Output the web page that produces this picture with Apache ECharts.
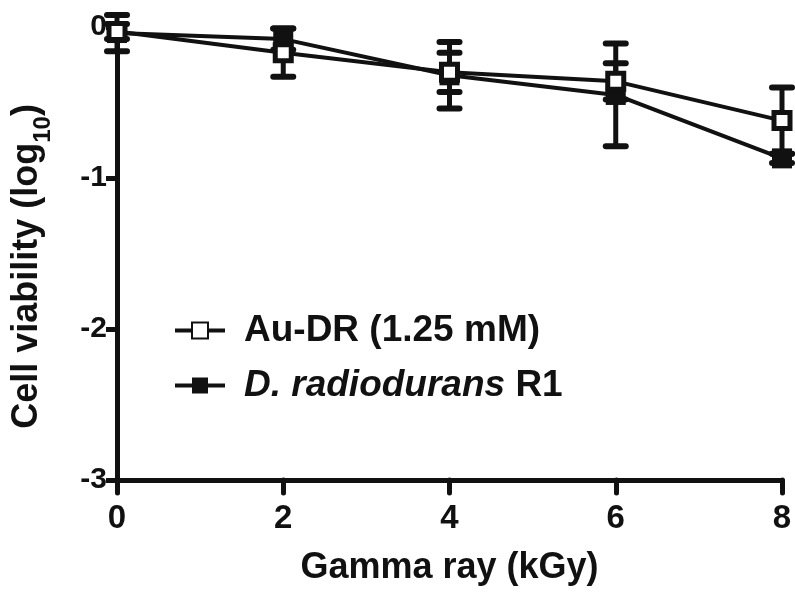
<!DOCTYPE html>
<html><head><meta charset="utf-8">
<script src="https://cdn.jsdelivr.net/npm/echarts@6/dist/echarts.min.js"></script>
<style>html,body{margin:0;padding:0;background:#fff}#c{width:795px;height:594px}</style>
</head><body><div id="c"></div>
<script>
const doses = [0, 2, 4, 6, 8];
const xTicks = [0, 2, 4, 6, 8];
const yTicks = [-3, -2, -1, 0];
const auDR = [-0.03, -0.17, -0.30, -0.36, -0.62];
const auDRErr = [0.05, 0.16, 0.13, 0.12, 0.22];
const dRad = [-0.04, -0.08, -0.32, -0.45, -0.87];
const dRadErr = [0.12, 0.07, 0.22, 0.34, 0.03];

const FONT = '"Liberation Sans", Arial, sans-serif';
const chart = echarts.init(document.getElementById('c'));

function errSeries(name, vals, errs, z) {
  return {
    type: 'custom', name: name + ' err', z: z, silent: true,
    data: doses.map((d, i) => [d, vals[i] - errs[i], vals[i] + errs[i]]),
    renderItem: function (params, api) {
      const x = api.value(0);
      const lo = api.coord([x, api.value(1)]);
      const hi = api.coord([x, api.value(2)]);
      const hw = 10;
      const st = { stroke: '#111', lineWidth: 6, lineCap: 'round' };
      return { type: 'group', children: [
        { type: 'line', shape: { x1: lo[0], y1: lo[1], x2: hi[0], y2: hi[1] }, style: { stroke: '#111', lineWidth: 5 } },
        { type: 'line', shape: { x1: lo[0] - hw, y1: lo[1], x2: lo[0] + hw, y2: lo[1] }, style: st },
        { type: 'line', shape: { x1: hi[0] - hw, y1: hi[1], x2: hi[0] + hw, y2: hi[1] }, style: st }
      ]};
    }
  };
}

chart.setOption({
  animation: false,
  grid: { left: 117, right: 13, top: 27, bottom: 114, containLabel: false },
  xAxis: {
    type: 'value', min: 0, max: 8, interval: 2,
    name: 'Gamma ray (kGy)', nameLocation: 'middle', nameGap: 70,
    nameTextStyle: { fontFamily: FONT, fontWeight: 'bold', fontSize: 36, color: '#111' },
    axisLine: { onZero: false, lineStyle: { color: '#111', width: 5 } },
    axisTick: { show: true, length: 13, lineStyle: { color: '#111', width: 5, cap: 'round' } },
    axisLabel: { fontFamily: FONT, fontWeight: 'bold', fontSize: 33, color: '#111', margin: 22,
      formatter: v => xTicks.includes(v) ? String(v) : '' },
    splitLine: { show: false }
  },
  yAxis: {
    type: 'value', min: -3, max: 0, interval: 1,
    name: '{a|Cell viability (log}{s|10}{a|)}', nameLocation: 'middle', nameGap: 70,
    nameTextStyle: { fontFamily: FONT, fontWeight: 'bold', fontSize: 36, color: '#111', padding: [0, 26, 0, 0],
      rich: {
        a: { fontFamily: FONT, fontWeight: 'bold', fontSize: 36, color: '#111', lineHeight: 40 },
        s: { fontFamily: FONT, fontWeight: 'bold', fontSize: 24, color: '#111', lineHeight: 40, verticalAlign: 'bottom', padding: [0, 0, -8, 0] }
      } },
    axisLine: { show: true, onZero: false, lineStyle: { color: '#111', width: 5 } },
    axisTick: { show: true, length: 11, lineStyle: { color: '#111', width: 5 } },
    axisLabel: { fontFamily: FONT, fontWeight: 'bold', fontSize: 30, color: '#111', margin: 10,
      formatter: v => yTicks.includes(v) ? String(v) : '' },
    splitLine: { show: false }
  },
  legend: {
    left: 168, top: 307, orient: 'vertical', itemGap: 18, itemWidth: 50, itemHeight: 20,
    lineStyle: { width: 4, color: '#111' },
    textStyle: { fontFamily: FONT, fontWeight: 'bold', fontSize: 37, color: '#111', padding: [0, 0, 0, 14],
      rich: {
        n: { fontFamily: FONT, fontWeight: 'bold', fontSize: 37, color: '#111' },
        i: { fontFamily: FONT, fontWeight: 'bold', fontStyle: 'italic', fontSize: 37, color: '#111' }
      } },
    formatter: function (name) {
      if (name === 'D. radiodurans R1') return '{i|D. radiodurans} {n|R1}';
      return '{n|' + name + '}';
    },
    data: ['Au-DR (1.25 mM)', 'D. radiodurans R1']
  },
  series: [
    errSeries('dRad', dRad, dRadErr, 2),
    errSeries('auDR', auDR, auDRErr, 2),
    {
      name: 'D. radiodurans R1', type: 'line', z: 3,
      data: doses.map((d, i) => [d, dRad[i]]),
      symbol: 'rect', symbolSize: 20,
      lineStyle: { color: '#111', width: 4 },
      itemStyle: { color: '#111', borderColor: '#111', borderWidth: 0 }
    },
    {
      name: 'Au-DR (1.25 mM)', type: 'line', z: 4,
      data: doses.map((d, i) => [d, auDR[i]]),
      symbol: 'rect', symbolSize: 16,
      lineStyle: { color: '#111', width: 4 },
      itemStyle: { color: '#fff', borderColor: '#111', borderWidth: 5 }
    }
  ]
});
</script></body></html>
